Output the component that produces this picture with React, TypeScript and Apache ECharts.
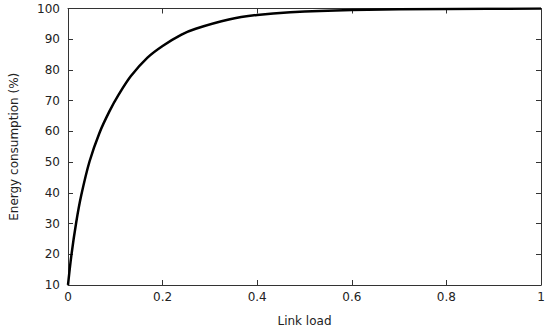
import React, { useEffect, useRef } from "react";
import * as echarts from "echarts";

const linkLoad = [0, 0.007, 0.0175, 0.028, 0.0455, 0.0665, 0.0875, 0.1065, 0.133, 0.168, 0.2, 0.24, 0.27, 0.34, 0.4, 0.47, 0.6, 0.8, 1];
const energy = [10, 19.5, 30.5, 39.2, 50.2, 59.5, 66.5, 71.8, 78.0, 84.0, 87.8, 91.5, 93.4, 96.4, 97.9, 98.8, 99.5, 99.85, 100];

const FONT = "DejaVu Sans";
const AXIS_COLOR = "#333333";

export default function App() {
  const ref = useRef<HTMLDivElement>(null);
  useEffect(() => {
    if (!ref.current) return;
    const chart = echarts.init(ref.current, undefined, { renderer: "svg" });
    const data = linkLoad.map((x, i) => [x, energy[i]]);
    const xCommon = {
      type: "value",
      min: 0,
      max: 1,
      interval: 0.2,
      splitLine: { show: false },
      axisLine: { show: true, onZero: false, lineStyle: { color: AXIS_COLOR, width: 1 } },
      axisTick: { show: true, inside: true, length: 5, lineStyle: { color: AXIS_COLOR } },
    };
    const yCommon = {
      type: "value",
      min: 10,
      max: 100,
      interval: 10,
      splitLine: { show: false },
      axisLine: { show: true, onZero: false, lineStyle: { color: AXIS_COLOR, width: 1 } },
      axisTick: { show: true, inside: true, length: 5, lineStyle: { color: AXIS_COLOR } },
    };
    chart.setOption({
      animation: false,
      grid: { left: 65, right: 9, top: 8.5, bottom: 46.5, containLabel: false },
      xAxis: [
        {
          ...xCommon,
          position: "bottom",
          name: "Link load",
          nameLocation: "middle",
          nameGap: 30,
          nameTextStyle: { fontFamily: FONT, fontSize: 12, color: "#222" },
          axisLabel: {
            fontFamily: FONT,
            fontSize: 12,
            color: "#222",
            margin: 6,
            formatter: (v: number) => String(Math.round(v * 10) / 10),
          },
        },
        { ...xCommon, position: "top", axisLabel: { show: false } },
      ],
      yAxis: [
        {
          ...yCommon,
          position: "left",
          name: "Energy consumption (%)",
          nameLocation: "middle",
          nameGap: 48,
          nameTextStyle: { fontFamily: FONT, fontSize: 12, color: "#222" },
          axisLabel: { fontFamily: FONT, fontSize: 12, color: "#222", margin: 8 },
        },
        { ...yCommon, position: "right", axisLabel: { show: false } },
      ],
      series: [
        {
          type: "line",
          data,
          xAxisIndex: 0,
          yAxisIndex: 0,
          smooth: 0.3,
          showSymbol: false,
          symbol: "none",
          lineStyle: { color: "#000", width: 2.5 },
        },
      ],
    });
    return () => chart.dispose();
  }, []);
  return (
    <div
      ref={ref}
      style={{ position: "fixed", left: 0, top: 0, width: 550, height: 332, background: "#fff" }}
    />
  );
}
